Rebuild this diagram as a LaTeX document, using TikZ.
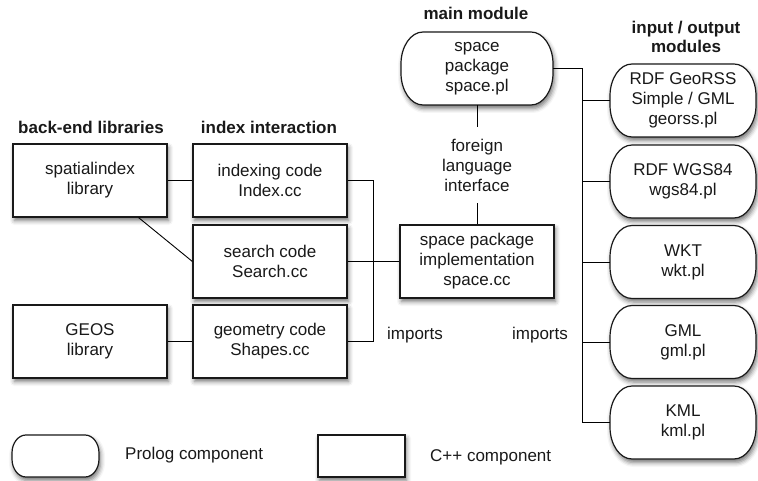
\documentclass[tikz,border=0pt]{standalone}
\usepackage{fontspec}
\setmainfont{Liberation Sans}
\usetikzlibrary{shadows.blur,calc}
\pgfdeclarelayer{background}
\pgfsetlayers{background,main}

% Outline of a Prolog component: a box whose four corners are elliptical
% quarter arcs (#1 = node name, #2 = horizontal radius, #3 = vertical radius)
\newcommand\prologoutline[3]{%
  \path[plshape] ([xshift=#2]#1.north west) -- ([xshift=-#2]#1.north east)
    arc[start angle=90,end angle=0,x radius=#2,y radius=#3]
    -- ([yshift=#3]#1.south east)
    arc[start angle=0,end angle=-90,x radius=#2,y radius=#3]
    -- ([xshift=#2]#1.south west)
    arc[start angle=270,end angle=180,x radius=#2,y radius=#3]
    -- ([yshift=-#3]#1.north west)
    arc[start angle=180,end angle=90,x radius=#2,y radius=#3]
    -- cycle;}

\tikzset{
  base/.style={font=\fontsize{17}{20}\selectfont, align=center, text=black!90, inner sep=2pt},
  head/.style={base, font=\bfseries\fontsize{17}{19}\selectfont},
  softshadow/.style={blur shadow={shadow xshift=1.5pt, shadow yshift=-3.5pt,
      shadow blur radius=4.5pt, shadow opacity=55}},
  cpp/.style={base, draw=black!90, line width=1.2pt, fill=white, softshadow,
      minimum width=154pt, minimum height=73pt, inner sep=0pt},
  plg/.style={base, minimum width=146pt, minimum height=73pt, inner sep=0pt, outer sep=0pt},
  plshape/.style={draw=black!90, line width=1.2pt, fill=white, softshadow},
  link/.style={draw=black, line width=0.9pt},
}

\begin{document}
\begin{tikzpicture}[x=1pt,y=1pt]
\useasboundingbox (0,0) rectangle (758,-481);

% column headings
\node[head] (hback)  at (91,-127)  {back-end libraries};
\node[head] (hindex) at (269,-127) {index interaction};
\node[head] (hmain)  at (476,-13)  {main module};
\node[head] (hio)    at (686,-37)  {input / output\\modules};

% C++ components
\node[cpp] (spatial) at (90,-180.5)  {spatialindex\\library};
\node[cpp] (index)   at (270,-180.5) {indexing code\\Index.cc};
\node[cpp] (search)  at (270,-261.5) {search code\\Search.cc};
\node[cpp] (geos)    at (90,-341.5)  {GEOS\\library};
\node[cpp] (shapes)  at (270,-341.5) {geometry code\\Shapes.cc};
\node[cpp] (spacecc) at (477,-261.5) {space package\\implementation\\space.cc};

% Prolog components
\node[plg, minimum width=152pt] (spacepl) at (477,-68.5) {space\\package\\space.pl};
\node[plg] (georss) at (683,-100.5) {RDF GeoRSS\\Simple / GML\\georss.pl};
\node[plg] (wgs)    at (683,-181.5) {RDF WGS84\\wgs84.pl};
\node[plg] (wkt)    at (683,-262)   {WKT\\wkt.pl};
\node[plg] (gml)    at (683,-342)   {GML\\gml.pl};
\node[plg] (kml)    at (683,-422.5) {KML\\kml.pl};

% interface and import labels
\node[base, minimum height=76pt, inner sep=0pt] (fli) at (477,-165) {foreign\\language\\interface};
\node[base] (imp1) at (415,-335) {imports};
\node[base] (imp2) at (540,-335) {imports};

% legend
\node[plg, minimum width=87pt, minimum height=42pt] (legpl) at (55.5,-456) {};
\node[base, anchor=west] (legpltext) at (123,-455) {Prolog component};
\node[cpp, minimum width=87pt, minimum height=42pt] (legcpp) at (361.5,-456) {};
\node[base, anchor=west] (legcpptext) at (428,-457) {C++ component};

% connectors
\draw[link] (spatial.east) -- (index.west);
\draw[link] ($(spatial.south east)+(-29,0)$) -- (search.west);
\draw[link] (geos.east) -- (shapes.west);
\draw[link] (index.east) -- ++(26,0) coordinate (busL) |- (shapes.east);
\draw[link] (search.east) -- (spacecc.west);
\draw[link] (spacepl.south) -- (fli.north);
\draw[link] (fli.south) -- (spacecc.north);
\draw[link] (spacepl.east) -- ++(29,0) coordinate (busR) |- (kml.west);
\foreach \n in {georss,wgs,wkt,gml}
  \draw[link] (busR |- \n.west) -- (\n.west);

% Prolog outlines behind their labels
\begin{pgfonlayer}{background}
  \prologoutline{spacepl}{22pt}{32pt}
  \prologoutline{georss}{22pt}{32pt}
  \prologoutline{wgs}{22pt}{32pt}
  \prologoutline{wkt}{22pt}{32pt}
  \prologoutline{gml}{22pt}{32pt}
  \prologoutline{kml}{22pt}{32pt}
  \prologoutline{legpl}{14pt}{18pt}
\end{pgfonlayer}
\end{tikzpicture}
\end{document}
